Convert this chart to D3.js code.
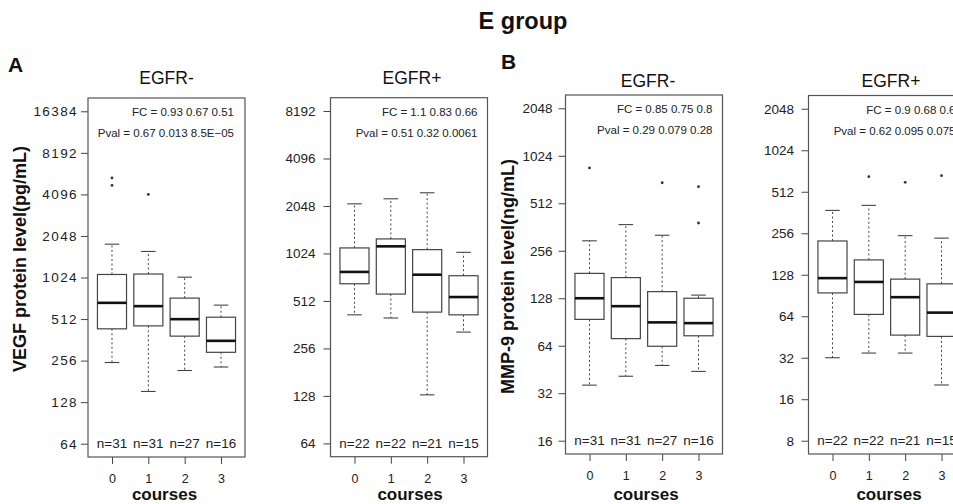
<!DOCTYPE html>
<html><head><meta charset="utf-8">
<script src="https://cdn.jsdelivr.net/npm/d3@7"></script>
<style>
body{margin:0;background:#fff}
svg{display:block;font-family:"Liberation Sans",Arial,Helvetica,sans-serif}
</style>
</head><body>
<svg id="c" width="953" height="504"></svg>
<script>
// ---------- data ----------
const courses = ["0", "1", "2", "3"];

// Panel A, EGFR- : VEGF protein level (pg/mL)
const vegfNegTicks = [64, 128, 256, 512, 1024, 2048, 4096, 8192, 16384];
const vegfNegLow  = [248, 153, 217, 230];
const vegfNegQ1   = [435, 457, 385, 294];
const vegfNegMed  = [671, 635, 511, 356];
const vegfNegQ3   = [1077, 1085, 726, 528];
const vegfNegHigh = [1785, 1581, 1030, 646];
const vegfNegOut  = [[5388, 4761], [4096], [], []];
const vegfNegN    = [31, 31, 27, 16];
const vegfNegFC   = "FC = 0.93 0.67 0.51";
const vegfNegP    = "Pval = 0.67 0.013 8.5E\u221205";

// Panel A, EGFR+ : VEGF
const vegfPosTicks = [64, 128, 256, 512, 1024, 2048, 4096, 8192];
const vegfPosLow  = [418, 399, 130, 325];
const vegfPosQ1   = [658, 566, 435, 418];
const vegfPosMed  = [782, 1136, 751, 542];
const vegfPosQ3   = [1110, 1266, 1083, 740];
const vegfPosHigh = [2113, 2274, 2483, 1041];
const vegfPosOut  = [[], [], [], []];
const vegfPosN    = [22, 22, 21, 15];
const vegfPosFC   = "FC = 1.1 0.83 0.66";
const vegfPosP    = "Pval = 0.51 0.32 0.0061";

// Panel B, EGFR- : MMP-9 protein level (ng/mL)
const mmpNegTicks = [16, 32, 64, 128, 256, 512, 1024, 2048];
const mmpNegLow  = [36, 41, 48, 44];
const mmpNegQ1   = [94, 71, 63.5, 74];
const mmpNegMed  = [128, 114, 90, 89];
const mmpNegQ3   = [184, 173, 141, 128];
const mmpNegHigh = [296, 375, 321, 134];
const mmpNegOut  = [[858], [], [691], [652, 384]];
const mmpNegN    = [31, 31, 27, 16];
const mmpNegFC   = "FC = 0.85 0.75 0.8";
const mmpNegP    = "Pval = 0.29 0.079 0.28";

// Panel B, EGFR+ : MMP-9
const mmpPosTicks = [8, 16, 32, 64, 128, 256, 512, 1024, 2048];
const mmpPosLow  = [32, 34.6, 34.6, 20.3];
const mmpPosQ1   = [94.5, 66, 46.7, 45.7];
const mmpPosMed  = [121, 113.5, 88, 68];
const mmpPosQ3   = [225, 164, 119, 110];
const mmpPosHigh = [375, 408, 246, 236];
const mmpPosOut  = [[], [659], [599], [670]];
const mmpPosN    = [22, 22, 21, 15];
const mmpPosFC   = "FC = 0.9 0.68 0.6";
const mmpPosP    = "Pval = 0.62 0.095 0.075";

// ---------- drawing ----------
const svg = d3.select("#c");
const INK = "#222", LINE = "#444";

function drawPanel(o) {
  const g = svg.append("g");
  const xs = d3.scaleLinear().domain([0.34, 4.66]).range([o.x, o.x + o.w]);
  const n = Math.log2(o.ticks[o.ticks.length - 1] / o.ticks[0]);
  const ext = Math.pow(2, n * 0.04);
  const ys = d3.scaleLog().base(2)
    .domain([o.ticks[0] / ext, o.ticks[o.ticks.length - 1] * ext])
    .range([o.y + o.h, o.y]);

  // y axis
  const ya = g.append("g").attr("transform", `translate(${o.x},0)`)
    .call(d3.axisLeft(ys).tickValues(o.ticks).tickFormat(d3.format("d")).tickSize(7).tickPadding(o.gap));
  ya.select(".domain").remove();
  ya.selectAll("line").attr("stroke", LINE);
  ya.selectAll("text").attr("fill", INK).attr("font-size", 13.5)
    .style("letter-spacing", o.ls + "px").attr("font-family", "Liberation Sans, Arial, sans-serif");

  // x axis
  const xa = g.append("g").attr("transform", `translate(0,${o.y + o.h})`)
    .call(d3.axisBottom(xs).tickValues([1, 2, 3, 4]).tickFormat((d, i) => courses[i]).tickSize(7).tickPadding(10));
  xa.select(".domain").remove();
  xa.selectAll("line").attr("stroke", LINE);
  xa.selectAll("text").attr("fill", INK).attr("font-size", 12.5).attr("font-family", "Liberation Sans, Arial, sans-serif");

  // frame
  g.append("rect").attr("x", o.x).attr("y", o.y).attr("width", o.w).attr("height", o.h)
    .attr("fill", "none").attr("stroke", "#555").attr("stroke-width", 1.2);

  const bw = (xs(2) - xs(1)) * 0.8;
  courses.forEach((c, i) => {
    const cx = xs(i + 1);
    const bg = g.append("g");
    // whiskers (dashed)
    bg.append("line").attr("x1", cx).attr("x2", cx).attr("y1", ys(o.q3[i])).attr("y2", ys(o.high[i]))
      .attr("stroke", LINE).attr("stroke-dasharray", "2,2.5");
    bg.append("line").attr("x1", cx).attr("x2", cx).attr("y1", ys(o.q1[i])).attr("y2", ys(o.low[i]))
      .attr("stroke", LINE).attr("stroke-dasharray", "2,2.5");
    // staples
    [o.high[i], o.low[i]].forEach(v => {
      bg.append("line").attr("x1", cx - bw / 4).attr("x2", cx + bw / 4).attr("y1", ys(v)).attr("y2", ys(v))
        .attr("stroke", LINE).attr("stroke-width", 1.1);
    });
    // box
    bg.append("rect").attr("x", cx - bw / 2).attr("width", bw)
      .attr("y", ys(o.q3[i])).attr("height", ys(o.q1[i]) - ys(o.q3[i]))
      .attr("fill", "#fff").attr("stroke", LINE).attr("stroke-width", 1.2);
    // median
    bg.append("line").attr("x1", cx - bw / 2).attr("x2", cx + bw / 2)
      .attr("y1", ys(o.med[i])).attr("y2", ys(o.med[i]))
      .attr("stroke", "#111").attr("stroke-width", 2.6);
    // outliers
    o.out[i].forEach(v => {
      bg.append("circle").attr("cx", cx).attr("cy", ys(v)).attr("r", 1.4).attr("fill", "#333");
    });
    // n labels
    g.append("text").attr("x", cx).attr("y", o.y + o.h - 9).attr("text-anchor", "middle")
      .attr("font-size", 13.5).attr("fill", INK).text("n=" + o.n[i]);
  });

  // FC / Pval annotations
  g.append("text").attr("x", o.x + o.w - o.annR).attr("y", o.y + 18).attr("text-anchor", "end")
    .attr("font-size", 11.5).attr("fill", INK).text(o.fc);
  g.append("text").attr("x", o.x + o.w - o.annR).attr("y", o.y + 39).attr("text-anchor", "end")
    .attr("font-size", 11.5).attr("fill", INK).text(o.pv);

  // panel title
  g.append("text").attr("x", o.x + o.w / 2 + o.tdx).attr("y", o.ty).attr("text-anchor", "middle")
    .attr("font-size", 17.5).attr("fill", "#111").text(o.title);

  // x label
  g.append("text").attr("x", o.x + o.w / 2 + o.tdx - 2).attr("y", 500).attr("text-anchor", "middle")
    .attr("font-size", 17).attr("font-weight", "bold").attr("fill", "#111").text("courses");

  // y label
  if (o.ylab) {
    g.append("text").attr("transform", `translate(${o.ylx},${o.yly}) rotate(-90)`)
      .attr("text-anchor", "middle").attr("font-size", 18).attr("font-weight", "bold")
      .attr("fill", "#111").text(o.ylab);
  }
}

drawPanel({x: 88, y: 98, w: 157, h: 359, ticks: vegfNegTicks, low: vegfNegLow, q1: vegfNegQ1, med: vegfNegMed,
  q3: vegfNegQ3, high: vegfNegHigh, out: vegfNegOut, n: vegfNegN, fc: vegfNegFC, pv: vegfNegP,
  gap: 3, ls: 1.4, annR: 11, title: "EGFR-", ty: 84, tdx: 0,
  ylab: "VEGF protein level(pg/mL)", ylx: 25.5, yly: 259});
drawPanel({x: 330.5, y: 97.7, w: 157, h: 359, ticks: vegfPosTicks, low: vegfPosLow, q1: vegfPosQ1, med: vegfPosMed,
  q3: vegfPosQ3, high: vegfPosHigh, out: vegfPosOut, n: vegfPosN, fc: vegfPosFC, pv: vegfPosP,
  gap: 8, ls: 0, annR: 10, title: "EGFR+", ty: 84, tdx: 3});
drawPanel({x: 565.5, y: 95, w: 157, h: 359, ticks: mmpNegTicks, low: mmpNegLow, q1: mmpNegQ1, med: mmpNegMed,
  q3: mmpNegQ3, high: mmpNegHigh, out: mmpNegOut, n: mmpNegN, fc: mmpNegFC, pv: mmpNegP,
  gap: 6, ls: 0, annR: 10, title: "EGFR-", ty: 86.5, tdx: 4,
  ylab: "MMP-9 protein level(ng/mL)", ylx: 514, yly: 276.5});
drawPanel({x: 808.5, y: 95.5, w: 157, h: 358.5, ticks: mmpPosTicks, low: mmpPosLow, q1: mmpPosQ1, med: mmpPosMed,
  q3: mmpPosQ3, high: mmpPosHigh, out: mmpPosOut, n: mmpPosN, fc: mmpPosFC, pv: mmpPosP,
  gap: 7.5, ls: 0, annR: 10, title: "EGFR+", ty: 86.5, tdx: 4});

// figure title and panel letters
svg.append("text").attr("x", 523).attr("y", 28.5).attr("text-anchor", "middle")
  .attr("font-size", 23.5).attr("font-weight", "bold").attr("fill", "#111").text("E group");
svg.append("text").attr("x", 8).attr("y", 72).attr("font-size", 21).attr("font-weight", "bold")
  .attr("fill", "#111").text("A");
svg.append("text").attr("x", 501).attr("y", 68.5).attr("font-size", 21).attr("font-weight", "bold")
  .attr("fill", "#111").text("B");
</script>
</body></html>
